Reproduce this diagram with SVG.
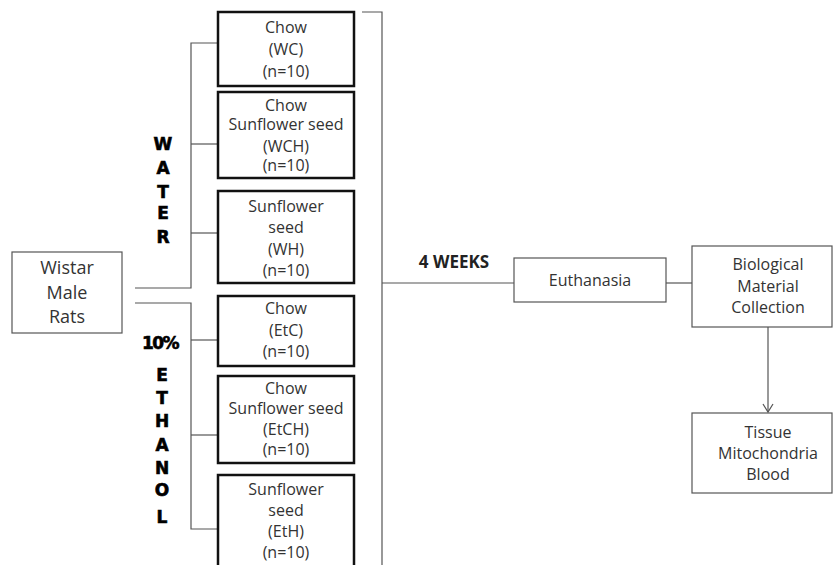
<svg xmlns="http://www.w3.org/2000/svg" width="833" height="565" viewBox="0 0 833 565">
<style>
.t{font-family:"Open Sans","Liberation Sans",sans-serif;font-size:16px;fill:#333;text-anchor:middle}
.b{fill:#fff;stroke:#111;stroke-width:2.5}
.n{fill:#fff;stroke:#555;stroke-width:1.2}
.c{fill:none;stroke:#555;stroke-width:1.2}
.v{font-family:"DejaVu Sans","Liberation Sans",sans-serif;font-weight:900;font-size:17px;fill:#000;stroke:#000;stroke-width:0.6;text-anchor:middle}
.w{font-family:"Open Sans","Liberation Sans",sans-serif;font-weight:bold;font-size:17px;fill:#222;text-anchor:middle}
</style>
<g id="connectors">
<path class="c" d="M135,288 H191 V43 H218"/>
<path class="c" d="M191,144 H218"/>
<path class="c" d="M191,233 H218"/>
<path class="c" d="M135,303 H191 V529 H218"/>
<path class="c" d="M191,340 H218"/>
<path class="c" d="M191,435 H218"/>
<path class="c" d="M362,12 H382 V565"/>
<path class="c" d="M382,283 H514"/>
<path class="c" d="M666,283 H692"/>
<path class="c" d="M768,327 V412"/>
<path class="c" d="M763,404 L768,412 L773,404"/>
</g>
<g id="wistar">
<rect class="n" x="12" y="252" width="110" height="81"/>
<text class="t" style="font-size:18px" x="67" y="274">Wistar</text>
<text class="t" style="font-size:18px" x="67" y="299">Male</text>
<text class="t" style="font-size:18px" x="67" y="323">Rats</text>
</g>
<g id="water-label">
<text class="v" x="163" y="150">W</text>
<text class="v" x="163" y="174">A</text>
<text class="v" x="163" y="198">T</text>
<text class="v" x="163" y="219">E</text>
<text class="v" x="163" y="243">R</text>
</g>
<g id="ethanol-label">
<text class="v" x="160" y="349" style="letter-spacing:-1.5px">10%</text>
<text class="v" x="162" y="381">E</text>
<text class="v" x="162" y="404">T</text>
<text class="v" x="162" y="427">H</text>
<text class="v" x="162" y="451">A</text>
<text class="v" x="162" y="474">N</text>
<text class="v" x="162" y="496">O</text>
<text class="v" x="162" y="523">L</text>
</g>
<g id="wc">
<rect class="b" x="218" y="12" width="136" height="74"/>
<text class="t" x="286" y="33">Chow</text>
<text class="t" x="286" y="55">(WC)</text>
<text class="t" x="286" y="77">(n=10)</text>
</g>
<g id="wch">
<rect class="b" x="218" y="92" width="136" height="86"/>
<text class="t" x="286" y="111">Chow</text>
<text class="t" x="286" y="130">Sunflower seed</text>
<text class="t" x="286" y="152">(WCH)</text>
<text class="t" x="286" y="171">(n=10)</text>
</g>
<g id="wh">
<rect class="b" x="218" y="191" width="136" height="92"/>
<text class="t" x="286" y="212">Sunflower</text>
<text class="t" x="286" y="233">seed</text>
<text class="t" x="286" y="255">(WH)</text>
<text class="t" x="286" y="276">(n=10)</text>
</g>
<g id="etc">
<rect class="b" x="218" y="296" width="136" height="70"/>
<text class="t" x="286" y="314">Chow</text>
<text class="t" x="286" y="336">(EtC)</text>
<text class="t" x="286" y="357">(n=10)</text>
</g>
<g id="etch">
<rect class="b" x="218" y="376" width="136" height="87"/>
<text class="t" x="286" y="394">Chow</text>
<text class="t" x="286" y="414">Sunflower seed</text>
<text class="t" x="286" y="435">(EtCH)</text>
<text class="t" x="286" y="455">(n=10)</text>
</g>
<g id="eth">
<rect class="b" x="218" y="475" width="136" height="100"/>
<text class="t" x="286" y="495">Sunflower</text>
<text class="t" x="286" y="516">seed</text>
<text class="t" x="286" y="537">(EtH)</text>
<text class="t" x="286" y="558">(n=10)</text>
</g>
<g id="weeks">
<text class="w" x="454" y="268">4 WEEKS</text>
</g>
<g id="euthanasia">
<rect class="n" x="514" y="258" width="152" height="44"/>
<text class="t" x="590" y="286">Euthanasia</text>
</g>
<g id="biological">
<rect class="n" x="692" y="246" width="140" height="81"/>
<text class="t" x="768" y="270">Biological</text>
<text class="t" x="768" y="292">Material</text>
<text class="t" x="768" y="313">Collection</text>
</g>
<g id="tissue">
<rect class="n" x="692" y="413" width="140" height="80"/>
<text class="t" x="768" y="438">Tissue</text>
<text class="t" x="768" y="459">Mitochondria</text>
<text class="t" x="768" y="480">Blood</text>
</g>
</svg>
